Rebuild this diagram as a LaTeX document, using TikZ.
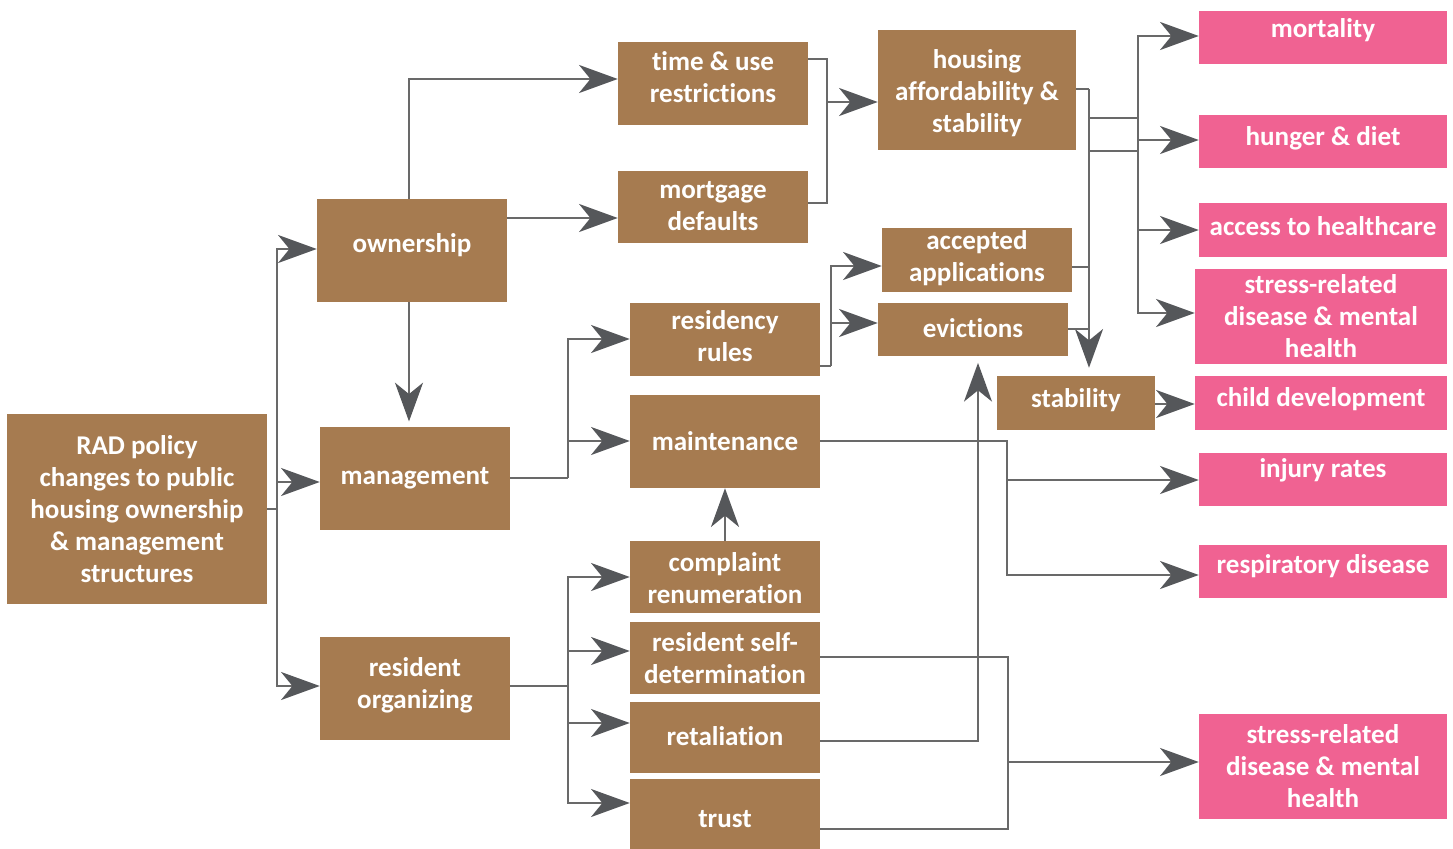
\documentclass[tikz,border=0pt]{standalone}
\usepackage{fontspec}
\setmainfont{Carlito}[Ligatures=CommonOff]
\usetikzlibrary{arrows.meta,calc,fit}
\definecolor{boxbrown}{RGB}{166,123,80}
\definecolor{boxpink}{RGB}{240,98,146}
\definecolor{linegray}{RGB}{105,105,105}
\definecolor{tipgray}{RGB}{85,87,90}
\tikzset{
 bb/.style={fill=boxbrown, draw=none, inner sep=0pt},
 pb/.style={fill=boxpink, draw=none, inner sep=0pt},
 txt/.style={text=white, font=\fontsize{20.3}{24}\selectfont\bfseries, align=center, inner sep=0pt},
 conn/.style={draw=linegray, line width=1.5pt},
 arr/.style={conn, -{Stealth[length=29pt,width=21pt,inset=8.5pt,color=tipgray]}},
}
\newcommand\bx[8]{%
 \node[#2, fit={(#3,#4) (#5,#6)}] (#1) {};
 \node[txt] (#1-t) at ($(#3,#7)!0.5!(#5,#7)$) {#8};
}
\begin{document}
\begin{tikzpicture}[x=0.75pt,y=-0.75pt]
\fill[white] (0,0) rectangle (1453,849);
\useasboundingbox (0,0) rectangle (1453,849);

\bx{rad}{bb}{7}{414}{267}{604}{509}{RAD policy\\changes to public\\housing ownership\\\& management\\structures}
\bx{own}{bb}{317}{199}{507}{302}{245}{ownership}
\bx{mgmt}{bb}{320}{427}{510}{530}{478}{management}
\bx{rorg}{bb}{320}{637}{510}{740}{685}{resident\\organizing}
\bx{time}{bb}{618}{42}{808}{125}{77}{time \& use\\restrictions}
\bx{mort}{bb}{618}{171}{808}{243}{206}{mortgage\\defaults}
\bx{house}{bb}{878}{30}{1076}{150}{93}{housing\\affordability \&\\stability}
\bx{acc}{bb}{882}{228}{1072}{292}{258}{accepted\\applications}
\bx{evic}{bb}{878}{303}{1068}{356}{328}{evictions}
\bx{res}{bb}{630}{303}{820}{376}{336}{residency\\rules}
\bx{maint}{bb}{630}{395}{820}{488}{441}{maintenance}
\bx{comp}{bb}{630}{541}{820}{613}{578}{complaint\\renumeration}
\bx{self}{bb}{630}{622}{820}{694}{658}{resident self-\\determination}
\bx{ret}{bb}{630}{702}{820}{773}{736}{retaliation}
\bx{trust}{bb}{630}{779}{820}{849}{819}{trust}
\bx{stab}{bb}{997}{376}{1155}{430}{400}{stability}

\bx{mortal}{pb}{1199}{11}{1447}{64}{30}{mortality}
\bx{hunger}{pb}{1199}{115}{1447}{168}{138}{hunger \& diet}
\bx{access}{pb}{1199}{203}{1447}{257}{226}{access to healthcare}
\bx{stressA}{pb}{1195}{269}{1447}{364}{316}{stress-related\\disease \& mental\\health}
\bx{child}{pb}{1195}{376}{1447}{430}{399}{child development}
\bx{injury}{pb}{1199}{453}{1447}{506}{470}{injury rates}
\bx{resp}{pb}{1199}{545}{1447}{598}{566}{respiratory disease}
\bx{stressB}{pb}{1199}{714}{1447}{819}{766}{stress-related\\disease \& mental\\health}

% RAD -> first tier
\coordinate (jr) at (277,509);
\draw[conn] (rad.east |- jr) -- (jr);
\draw[arr] (jr) |- (own.west |- 0,249);
\draw[arr] (jr) |- (mgmt.west |- 0,482);
\draw[arr] (jr) |- (rorg.west |- 0,686);

% ownership
\draw[arr] (own.north -| 409,0) |- (time.west |- 0,79);
\draw[arr] (own.east |- 0,218) -- (mort.west |- 0,218);
\draw[arr, shorten >=4pt] (own.south -| 409,0) -- (mgmt.north -| 409,0);

% time & mortgage -> housing
\coordinate (jt) at (827,102);
\draw[conn] (time.east |- 0,59) -| (827,203) -- (mort.east |- 0,203);
\draw[arr] (jt) -- (house.west |- jt);

% management
\coordinate (jm) at (568,478);
\draw[conn] (mgmt.east |- jm) -- (jm);
\draw[arr] (jm) |- (res.west |- 0,339);
\draw[arr] (jm) |- (maint.west |- 0,441);

% residency rules
\coordinate (jres) at (831,366);
\draw[conn] (res.east |- jres) -- (jres);
\draw[arr] (jres) |- (acc.west |- 0,266);
\draw[arr] (jres) |- (evic.west |- 0,323);

% housing / accepted / evictions -> outcomes
\draw[conn] (house.east |- 0,89) -- (1089,89);
\draw[arr, shorten >=6pt] (1089,89) -- (stab.north -| 1089,0);
\draw[conn] (acc.east |- 0,267) -- (1089,267);
\draw[conn] (evic.east |- 0,329) -- (1089,329);
\draw[conn] (1089,118) -- (1138,118);
\draw[conn] (1089,151) -- (1138,151);
\coordinate (jo) at (1138,118);
\draw[arr] (jo) |- (mortal.west |- 0,36);
\draw[arr] (jo) |- (hunger.west |- 0,140);
\draw[arr] (jo) |- (access.west |- 0,230);
\draw[arr] (jo) |- (stressA.west |- 0,313);
\draw[arr] (stab.east |- 0,404) -- (child.west |- 0,404);

% maintenance -> injury, respiratory
\draw[arr] (maint.east |- 0,441) -| (1007,575) -- (resp.west |- 0,575);
\draw[arr] (1007,480) -- (injury.west |- 0,480);

% complaint -> maintenance
\draw[arr] (comp.north -| 725,0) -- (maint.south -| 725,0);

% resident organizing
\coordinate (jo2) at (568,686);
\draw[conn] (rorg.east |- jo2) -- (jo2);
\draw[arr] (jo2) |- (comp.west |- 0,577);
\draw[arr] (jo2) |- (self.west |- 0,651);
\draw[arr] (jo2) |- (ret.west |- 0,723);
\draw[arr] (jo2) |- (trust.west |- 0,803);

% retaliation -> evictions
\draw[arr, shorten >=5pt] (ret.east |- 0,741) -| (evic.south -| 978,0);

% self-determination, trust -> stress
\draw[conn] (self.east |- 0,657) -| (1008,829) -- (trust.east |- 0,829);
\draw[arr] (1008,762) -- (stressB.west |- 0,762);
\end{tikzpicture}
\end{document}
